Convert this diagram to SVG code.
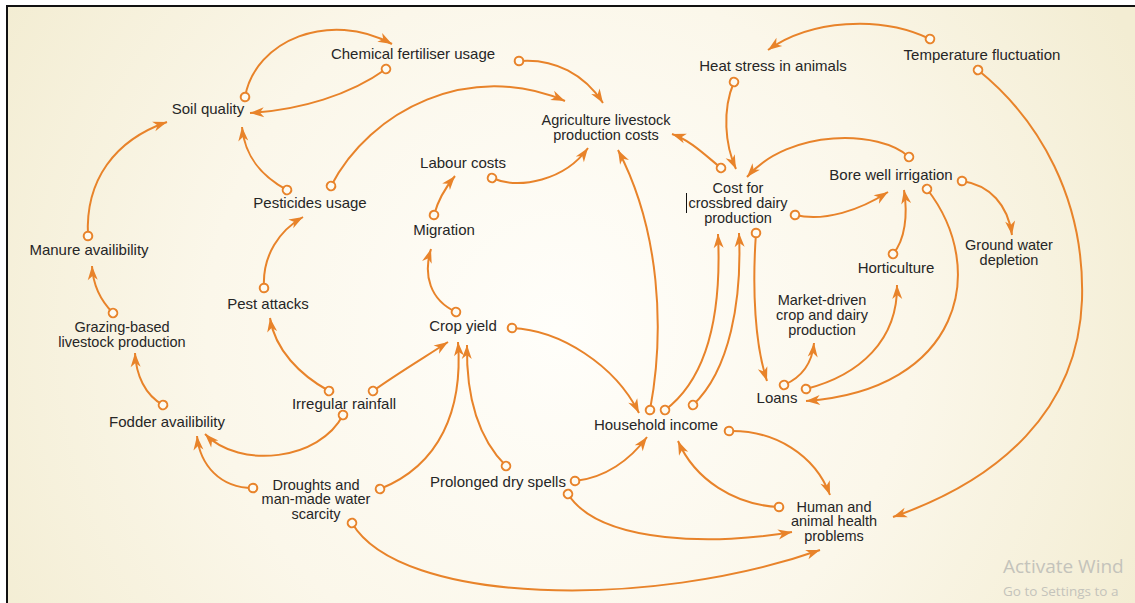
<svg xmlns="http://www.w3.org/2000/svg" width="1135" height="603" viewBox="0 0 1135 603">
  <defs>
    <radialGradient id="bg" cx="560" cy="330" r="640" gradientUnits="userSpaceOnUse">
      <stop offset="0" stop-color="#fffefa"/>
      <stop offset="0.55" stop-color="#fbf7ea"/>
      <stop offset="1" stop-color="#f3edd3"/>
    </radialGradient>
    <marker id="a" markerUnits="userSpaceOnUse" markerWidth="16" markerHeight="12" refX="14" refY="5" orient="auto" overflow="visible">
      <path d="M0,0 L14,5 L0,10 L4,5 Z" fill="#E8832A"/>
    </marker>
    <marker id="o" markerUnits="userSpaceOnUse" markerWidth="12" markerHeight="12" refX="6" refY="6" orient="auto" overflow="visible">
      <circle cx="6" cy="6" r="4.3" fill="#fdfbf2" stroke="#E8832A" stroke-width="2"/>
    </marker>
    <style>
      .lnk { fill: none; stroke: #E8832A; stroke-width: 2; marker-start: url(#o); marker-end: url(#a); }
      .t { font-family: "Liberation Sans", Arial, sans-serif; font-size: 15px; fill: #262626; text-anchor: middle; }
      .m { font-size: 14.5px; }
      .wm { font-family: "Open Sans", "Liberation Sans", sans-serif; fill: #c4c3bb; }
    </style>
  </defs>

  <rect x="0" y="0" width="1135" height="603" fill="#ffffff"/>
  <rect x="7" y="6" width="1140" height="610" fill="url(#bg)" stroke="#111" stroke-width="2"/>

  <!-- causal links: circle marks the source, arrow the affected variable -->
  <g id="connectors">
    <path class="lnk" d="M245,97 C255,40 330,10 392,44"/>
    <path class="lnk" d="M386,69 C350,95 300,110 250,113"/>
    <path class="lnk" d="M331,186 C370,110 470,60 565,101"/>
    <path class="lnk" d="M287,190 C265,178 245,160 242,127"/>
    <path class="lnk" d="M88,236 C85,180 115,140 167,122"/>
    <path class="lnk" d="M519,61 C555,58 585,75 603,103"/>
    <path class="lnk" d="M492,178 C520,190 565,180 588,148"/>
    <path class="lnk" d="M434,215 C438,200 445,188 455,176"/>
    <path class="lnk" d="M456,312 C430,300 423,275 431,249"/>
    <path class="lnk" d="M734,82 C722,110 725,145 736,169"/>
    <path class="lnk" d="M721,168 C705,155 690,140 672,134"/>
    <path class="lnk" d="M930,39 C880,15 810,20 768,50"/>
    <path class="lnk" d="M909,157 C880,130 790,128 747,177"/>
    <path class="lnk" d="M795,215 C825,222 860,210 888,192"/>
    <path class="lnk" d="M893,254 C905,240 908,215 904,190"/>
    <path class="lnk" d="M962,181 C990,185 1008,205 1012,235"/>
    <path class="lnk" d="M927,189 C990,270 960,390 806,401"/>
    <path class="lnk" d="M978,70 C1040,120 1085,200 1082,300 C1078,410 1000,480 893,517"/>
    <path class="lnk" d="M756,233 C752,290 755,345 767,381"/>
    <path class="lnk" d="M784,385 C800,378 812,365 814,343"/>
    <path class="lnk" d="M806,389 C860,375 898,340 897,285"/>
    <path class="lnk" d="M650,410 C665,330 660,230 618,150"/>
    <path class="lnk" d="M665,410 C705,380 722,320 718,234"/>
    <path class="lnk" d="M693,405 C730,370 742,300 739,233"/>
    <path class="lnk" d="M512,328 C560,330 615,365 639,413"/>
    <path class="lnk" d="M575,481 C605,478 630,460 647,437"/>
    <path class="lnk" d="M568,494 C600,545 720,545 792,532"/>
    <path class="lnk" d="M352,523 C400,605 650,610 820,550"/>
    <path class="lnk" d="M729,431 C775,430 815,455 830,495"/>
    <path class="lnk" d="M779,507 C735,505 695,480 678,441"/>
    <path class="lnk" d="M373,391 C395,375 425,357 448,342"/>
    <path class="lnk" d="M329,391 C300,375 275,350 270,318"/>
    <path class="lnk" d="M343,415 C320,460 240,470 205,434"/>
    <path class="lnk" d="M253,488 C220,488 200,465 197,436"/>
    <path class="lnk" d="M380,489 C440,465 463,410 458,342"/>
    <path class="lnk" d="M506,466 C480,440 466,400 467,345"/>
    <path class="lnk" d="M264,288 C262,255 280,230 303,217"/>
    <path class="lnk" d="M113,313 C100,300 93,285 92,266"/>
    <path class="lnk" d="M163,405 C145,395 136,375 135,353"/>
  </g>

  <g id="chemical-fertiliser"><text class="t" x="413" y="59">Chemical fertiliser usage</text></g>
  <g id="soil-quality"><text class="t" x="208" y="114">Soil quality</text></g>
  <g id="ag-costs"><text class="t m" x="606" y="124.5">Agriculture livestock<tspan x="606" dy="15">production costs</tspan></text></g>
  <g id="labour-costs"><text class="t" x="463" y="168">Labour costs</text></g>
  <g id="heat-stress"><text class="t" x="773" y="71">Heat stress in animals</text></g>
  <g id="temperature"><text class="t" x="982" y="60">Temperature fluctuation</text></g>
  <g id="crossbred-cost">
    <text class="t m" x="738" y="192.5">Cost for<tspan x="738" dy="15">crossbred dairy</tspan><tspan x="738" dy="15">production</tspan></text>
    <line x1="686.5" y1="193" x2="686.5" y2="213" stroke="#111" stroke-width="1"/>
  </g>
  <g id="bore-well"><text class="t" x="891" y="180">Bore well irrigation</text></g>
  <g id="ground-water"><text class="t m" x="1009" y="249.5">Ground water<tspan x="1009" dy="15">depletion</tspan></text></g>
  <g id="horticulture"><text class="t" x="896" y="273">Horticulture</text></g>
  <g id="market-driven"><text class="t m" x="822" y="304.5">Market-driven<tspan x="822" dy="15">crop and dairy</tspan><tspan x="822" dy="15">production</tspan></text></g>
  <g id="loans"><text class="t" x="777" y="403">Loans</text></g>
  <g id="household-income"><text class="t" x="656" y="430">Household income</text></g>
  <g id="health-problems"><text class="t m" x="834" y="511.5">Human and<tspan x="834" dy="14.5">animal health</tspan><tspan x="834" dy="14.5">problems</tspan></text></g>
  <g id="pesticides"><text class="t" x="310" y="208">Pesticides usage</text></g>
  <g id="migration"><text class="t" x="444" y="235">Migration</text></g>
  <g id="manure"><text class="t" x="89" y="255">Manure availibility</text></g>
  <g id="pest-attacks"><text class="t" x="268" y="309">Pest attacks</text></g>
  <g id="crop-yield"><text class="t" x="463" y="331">Crop yield</text></g>
  <g id="grazing"><text class="t m" x="122" y="331.5">Grazing-based<tspan x="122" dy="15">livestock production</tspan></text></g>
  <g id="irregular-rainfall"><text class="t" x="344" y="409">Irregular rainfall</text></g>
  <g id="fodder"><text class="t" x="167" y="427">Fodder availibility</text></g>
  <g id="droughts"><text class="t m" x="316" y="489.5">Droughts and<tspan x="316" dy="14.5">man-made water</tspan><tspan x="316" dy="14.5">scarcity</tspan></text></g>
  <g id="dry-spells"><text class="t" x="498" y="487">Prolonged dry spells</text></g>

  <g id="watermark">
    <text class="wm" x="1003" y="573" font-size="19">Activate Wind</text>
    <text class="wm" x="1003" y="596" font-size="13.5">Go to Settings to a</text>
  </g>
</svg>
